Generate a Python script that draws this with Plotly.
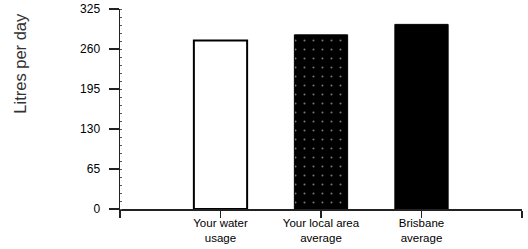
import plotly.graph_objects as go

categories = ["Your water<br>usage", "Your local area<br>average", "Brisbane<br>average"]
values = [274, 283, 300]
y_ticks = [0, 65, 130, 195, 260, 325]
positions = [1, 2, 3]

W, H = 528, 249
L, R, T, B = 120, 6, 9.3, 39.7

fig = go.Figure()
# Your water usage: white with black outline
fig.add_trace(go.Bar(x=[positions[0]], y=[values[0]], width=0.53,
                     marker=dict(color="white", line=dict(color="black", width=2))))
# Local area: black speckled
fig.add_trace(go.Bar(x=[positions[1]], y=[values[1]], width=0.53,
                     marker=dict(color="black", line=dict(color="black", width=1),
                                 pattern=dict(shape=".", fgcolor="#777777", bgcolor="black",
                                              size=9, solidity=0.04, fillmode="replace"))))
# Brisbane: solid black
fig.add_trace(go.Bar(x=[positions[2]], y=[values[2]], width=0.53,
                     marker=dict(color="black", line=dict(color="black", width=1))))

font = dict(family="Liberation Sans, Arial, sans-serif", color="#000000")

fig.update_layout(
    template="none",
    width=W, height=H,
    margin=dict(l=L, r=R, t=T, b=B, pad=0),
    paper_bgcolor="white", plot_bgcolor="white",
    showlegend=False,
    font=font,
    xaxis=dict(range=[0, 4], tickvals=[0] + positions + [4],
               ticktext=[""] + categories + [""],
               automargin=False,
               showgrid=False, zeroline=False, showline=True,
               linecolor="#222222", linewidth=1.5,
               ticks="outside", ticklen=7, tickwidth=1.2, tickcolor="#222222",
               ticklabelstandoff=-4,
               tickfont=dict(size=11.5, family="Liberation Sans, Arial", color="#000000"),
               fixedrange=True),
    yaxis=dict(range=[0, 325], tickvals=y_ticks, ticktext=[str(v) for v in y_ticks],
               automargin=False,
               showgrid=False, zeroline=False, showline=True,
               linecolor="#222222", linewidth=1.5,
               ticks="outside", ticklen=10, tickwidth=1.2, tickcolor="#222222",
               ticklabelstandoff=6,
               tickfont=dict(size=12, family="Liberation Sans, Arial", color="#000000"),
               minor=dict(ticks="inside", ticklen=2, dtick=13, tickcolor="#555555", tickwidth=1),
               fixedrange=True),
    annotations=[dict(text="Litres per day", textangle=-90,
                      xref="paper", yref="paper",
                      x=(20 - L) / (W - L - R), y=(H - B - 64) / (H - T - B),
                      xanchor="center", yanchor="middle", showarrow=False,
                      font=dict(size=16.5, family="Liberation Sans, Arial", color="#333333"))],
)

fig.write_html("out.html", config={"displayModeBar": False, "staticPlot": True},
               post_script="document.body.style.margin='0';document.body.style.overflow='hidden';")
